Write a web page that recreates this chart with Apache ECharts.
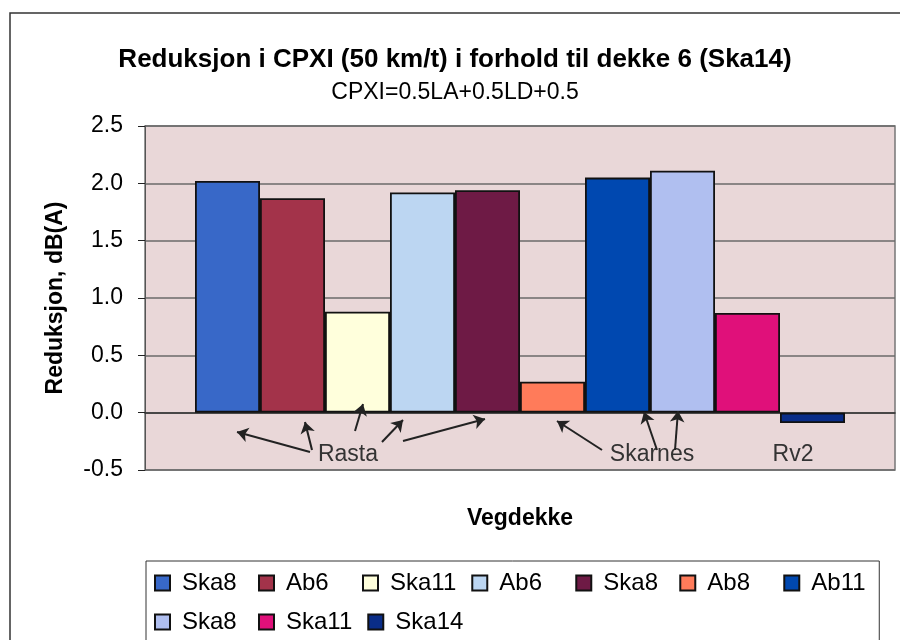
<!DOCTYPE html>
<html>
<head>
<meta charset="utf-8">
<script src="https://cdn.jsdelivr.net/npm/echarts@6/dist/echarts.min.js"></script>
<style>
  html, body { margin: 0; padding: 0; background: #fff; }
  #chart { width: 900px; height: 640px; }
</style>
</head>
<body>
<div id="chart"></div>
<script>
// data
const category = [''];
const surfaceNames = ['Ska8', 'Ab6', 'Ska11', 'Ab6', 'Ska8', 'Ab8', 'Ab11', 'Ska8', 'Ska11', 'Ska14'];
const reduction = [2.02, 1.87, 0.88, 1.92, 1.94, 0.27, 2.05, 2.11, 0.87, -0.09];
const barColors = ['#3868c8', '#a3334a', '#ffffdc', '#bcd6f2', '#6e1a45',
                   '#ff7b5a', '#0048b0', '#b0bff0', '#e0107a', '#0a2d88'];

const font = 'Liberation Sans, Arial, sans-serif';
var myChart = echarts.init(document.getElementById('chart'));

// arrows pointing from the group labels to the bars (pixel annotations)
const arrows = [
  [[310, 452], [237, 432]],
  [[312, 450], [305, 422]],
  [[355, 431], [363, 404]],
  [[382, 442], [403, 420]],
  [[403, 441], [485, 419]],
  [[602, 450], [557, 421]],
  [[657, 450], [644, 412]],
  [[675, 450], [678, 411]]
];

var series = reduction.map(function (v, i) {
  return {
    name: 's' + i,
    type: 'bar',
    data: [v],
    barWidth: 65,
    barGap: '0%',
    itemStyle: { color: barColors[i], borderColor: '#111', borderWidth: 1.8 }
  };
});
series[series.length - 1].markLine = {
  silent: true,
  symbol: ['none', 'arrow'],
  symbolSize: 11,
  label: { show: false },
  lineStyle: { color: '#222', width: 2, type: 'solid' },
  data: arrows.map(function (a) {
    return [{ x: a[0][0], y: a[0][1] }, { x: a[1][0], y: a[1][1] }];
  })
};

var option = {
  animation: false,
  textStyle: { fontFamily: font },
  title: [
    {
      text: 'Reduksjon i CPXI (50 km/t) i forhold til dekke 6 (Ska14)',
      left: 455, top: 47, padding: 0, textAlign: 'center',
      textStyle: { fontSize: 26, fontWeight: 'bold', color: '#000', fontFamily: font }
    },
    {
      text: 'CPXI=0.5LA+0.5LD+0.5',
      left: 455, top: 81, padding: 0, textAlign: 'center',
      textStyle: { fontSize: 23, fontWeight: 'normal', color: '#000', fontFamily: font }
    }
  ],
  grid: {
    left: 145, right: 5, top: 126, bottom: 170,
    show: true, backgroundColor: '#e9d7d8', borderColor: '#777', borderWidth: 1.5
  },
  legend: {
    left: 146, top: 561,
    padding: [10, 7, 30, 8],
    width: 735,
    itemWidth: 15, itemHeight: 15, itemGap: 15,
    icon: 'rect',
    borderColor: '#333', borderWidth: 1,
    data: surfaceNames.map(function (n, i) { return 's' + i; }),
    formatter: function (name) {
      return '{t|' + surfaceNames[+name.slice(1)] + '}';
    },
    textStyle: {
      color: '#000', fontFamily: font, fontSize: 24,
      rich: { t: { width: 61, padding: [0, 0, 0, 7], fontSize: 24, lineHeight: 21, color: '#000', fontFamily: font } }
    }
  },
  xAxis: {
    type: 'category',
    data: category,
    name: 'Vegdekke',
    nameLocation: 'middle',
    nameGap: 37,
    nameTextStyle: { fontSize: 23, fontWeight: 'bold', color: '#000', fontFamily: font },
    axisLine: { onZero: true, lineStyle: { color: '#333', width: 1.5 } },
    axisTick: { show: false },
    axisLabel: { show: false }
  },
  yAxis: {
    type: 'value',
    min: -0.5, max: 2.5, interval: 0.5,
    name: 'Reduksjon, dB(A)',
    nameLocation: 'middle',
    nameGap: 78,
    nameTextStyle: { fontSize: 23, fontWeight: 'bold', color: '#000', fontFamily: font },
    axisLine: { show: true, lineStyle: { color: '#555', width: 1 } },
    axisTick: { show: true, length: 7, lineStyle: { color: '#222' } },
    axisLabel: {
      margin: 22, fontSize: 23, color: '#000', fontFamily: font,
      formatter: function (v) { return v.toFixed(1); }
    },
    splitLine: { show: true, lineStyle: { color: '#6a6a6a', width: 1.5 } }
  },
  graphic: [
    { type: 'rect', shape: { x: 10, y: 13, width: 1000, height: 1000 },
      style: { fill: 'none', stroke: '#333', lineWidth: 1.5 }, z: -1 },
    { type: 'text', x: 348, y: 455, style: { text: 'Rasta', fill: '#333', font: '23px ' + font, align: 'center', verticalAlign: 'middle' } },
    { type: 'text', x: 652, y: 455, style: { text: 'Skarnes', fill: '#333', font: '23px ' + font, align: 'center', verticalAlign: 'middle' } },
    { type: 'text', x: 793, y: 455, style: { text: 'Rv2', fill: '#333', font: '23px ' + font, align: 'center', verticalAlign: 'middle' } }
  ],
  series: series
};

myChart.setOption(option);
</script>
</body>
</html>
